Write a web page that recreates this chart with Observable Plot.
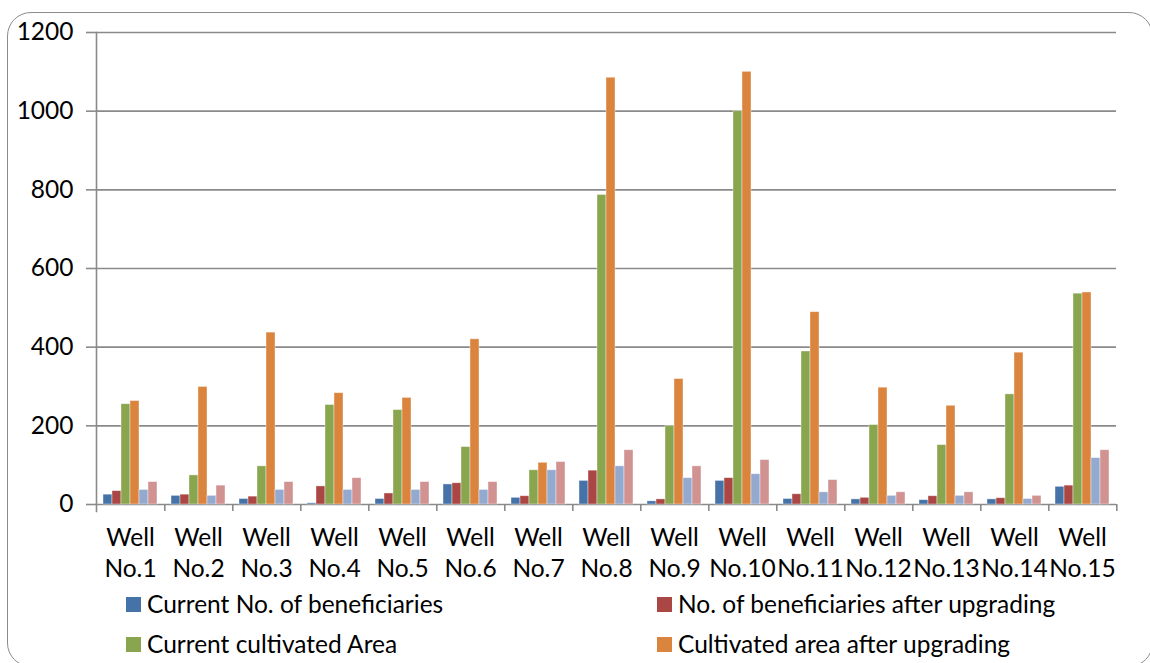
<!DOCTYPE html>
<html>
<head>
<meta charset="utf-8">
<script src="https://cdn.jsdelivr.net/npm/d3@7"></script>
<script src="https://cdn.jsdelivr.net/npm/@observablehq/plot@0.6"></script>
<style>
  html, body { margin: 0; padding: 0; background: #fff; }
  #wrap { position: relative; width: 1150px; height: 663px; overflow: hidden; font-family: Lato, "Open Sans", sans-serif; color: #000; }
  #border { position: absolute; left: 7px; top: 12px; width: 1146px; height: 655px; border: 1.5px solid #8c8c8c; border-radius: 24px; box-sizing: border-box; }
  #chart { position: absolute; left: 0; top: 0; }
  .leg { position: absolute; font-size: 24.5px; line-height: 24px; white-space: nowrap; display: flex; align-items: center; }
  .sw { display: inline-block; width: 15px; height: 15px; margin-right: 6px; }
</style>
</head>
<body>
<div id="wrap">
  <div id="border"></div>
  <div id="chart"></div>
</div>
<script>
const wells = ["Well No.1","Well No.2","Well No.3","Well No.4","Well No.5","Well No.6","Well No.7","Well No.8","Well No.9","Well No.10","Well No.11","Well No.12","Well No.13","Well No.14","Well No.15"];
const series = [
  "Current No. of beneficiaries",
  "No. of beneficiaries after upgrading",
  "Current cultivated Area",
  "Cultivated area after upgrading",
  "Series 5",
  "Series 6"
];
const colors = ["#4572A7", "#AA4643", "#89A54E", "#DB843D", "#93A9CF", "#D19392"];
const currentBeneficiaries = [25, 22, 14, 3, 14, 51, 17, 60, 8, 60, 14, 13, 11, 13, 45];
const beneficiariesAfter   = [34, 25, 20, 46, 28, 54, 21, 86, 13, 67, 26, 17, 21, 16, 48];
const currentArea          = [255, 74, 97, 253, 240, 146, 87, 787, 199, 1000, 389, 202, 151, 280, 536];
const areaAfter            = [263, 299, 437, 283, 271, 420, 106, 1085, 319, 1100, 489, 297, 251, 386, 539];
const series5Values        = [37, 22, 37, 37, 37, 37, 87, 97, 67, 77, 31, 22, 22, 14, 118];
const series6Values        = [57, 48, 57, 67, 57, 57, 108, 138, 97, 113, 62, 31, 31, 22, 138];
const yTicks = [0, 200, 400, 600, 800, 1000, 1200];
const legendItems = [0, 1, 2, 3];

const valueArrays = [currentBeneficiaries, beneficiariesAfter, currentArea, areaAfter, series5Values, series6Values];
const data = wells.flatMap((w, i) => series.map((s, j) => ({well: w, series: s, value: valueArrays[j][i]})));

const W = 1150, H = 585;
const mL = 91, mR = 30;
const band = (W - mL - mR) / wells.length;
const FS = 24.5;

const chart = Plot.plot({
  width: W,
  height: H,
  marginLeft: mL,
  marginRight: mR,
  marginTop: 32,
  marginBottom: 81,
  style: {fontFamily: "Lato, 'Open Sans', sans-serif", color: "#000", background: "transparent", overflow: "visible"},
  fx: {domain: wells, padding: 0, axis: null},
  x: {domain: series, paddingInner: 0, paddingOuter: 0.77, axis: null},
  y: {domain: [0, 1200], axis: null},
  color: {domain: series, range: colors},
  marks: [
    Plot.gridY(yTicks, {stroke: "#8a8a8a", strokeOpacity: 1, strokeWidth: 1.6}),
    Plot.frame({anchor: "left", facetAnchor: "left", stroke: "#8a8a8a", strokeWidth: 1.6, insetBottom: -7}),
    Plot.barY(data, {fx: "well", x: "series", y: "value", fill: "series", stroke: "#fff", strokeOpacity: 0.5, strokeWidth: 0.8}),
    Plot.axisY(yTicks, {tickSize: 10, tickPadding: 13, fontSize: FS, tickFormat: d => String(d), stroke: "#8a8a8a", strokeWidth: 1.6, label: null}),
    Plot.axisFx({anchor: "bottom", tickSize: 7, tickFormat: () => "", dx: band / 2, stroke: "#8a8a8a", strokeWidth: 1.6, label: null}),
    Plot.axisFx({anchor: "bottom", tickSize: 0, tickPadding: 19, fontSize: FS, lineHeight: 1.27, tickFormat: d => d.replace(" ", "\n"), label: null})
  ]
});
document.getElementById("chart").appendChild(chart);

const legendPos = [[126, 592], [657, 592], [126, 632], [657, 632]];
const wrap = document.getElementById("wrap");
legendItems.forEach((j, k) => {
  const el = document.createElement("div");
  el.className = "leg";
  el.style.left = legendPos[k][0] + "px";
  el.style.top = legendPos[k][1] + "px";
  el.innerHTML = `<span class="sw" style="background:${colors[j]}"></span><span>${series[j]}</span>`;
  wrap.appendChild(el);
});
</script>
</body>
</html>
